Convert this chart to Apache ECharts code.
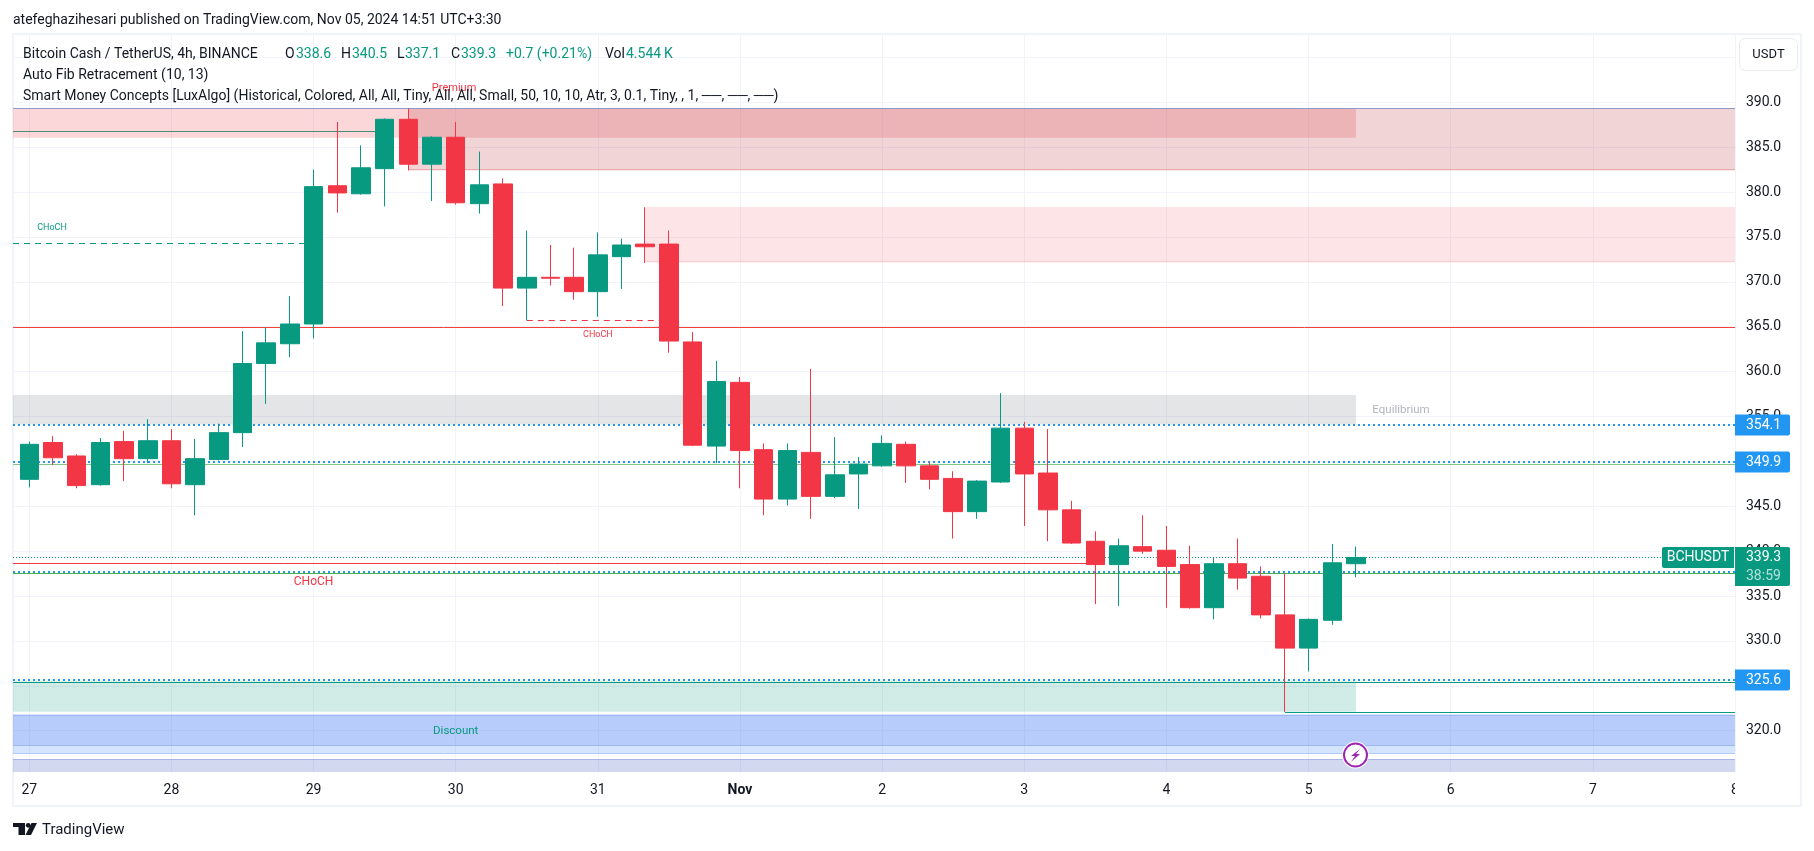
<!DOCTYPE html>
<html>
<head>
<meta charset="utf-8">
<style>html,body{margin:0;padding:0;background:#fff}#c{width:1814px;height:851px}</style>
<script src="https://cdn.jsdelivr.net/npm/echarts@6/dist/echarts.min.js"></script>
</head>
<body>
<div id="c"></div>
<script>
// ---- candles (one bar = 4h, bar 0 = Oct 27 00:00) ----
const opens  = [348.0,352.1,350.6,347.4,352.2,350.3,352.3,347.4,350.2,353.2,360.9,363.1,365.3,380.7,379.8,382.6,388.1,383.1,386.1,378.7,380.9,369.3,370.5,370.5,368.9,372.8,374.2,374.2,363.3,351.7,358.8,351.3,345.8,351.0,346.1,348.6,349.5,351.9,349.5,348.1,344.4,347.7,353.7,348.7,344.6,341.1,338.5,340.5,340.1,338.5,333.7,338.6,337.2,332.9,329.2,332.3,338.6];
const closes = [351.9,350.4,347.3,352.1,350.3,352.3,347.5,350.3,353.2,360.9,363.2,365.3,380.6,379.9,382.7,388.1,383.1,386.1,378.8,380.8,369.3,370.5,370.4,368.9,373.0,374.1,373.9,363.4,351.8,358.9,351.2,345.8,351.2,346.1,348.5,349.7,352.0,349.5,348.0,344.4,347.8,353.7,348.6,344.6,340.9,338.5,340.6,340.0,338.3,333.7,338.6,337.0,332.9,329.2,332.4,338.7,339.3];
const lows   = [347.1,349.6,347.0,347.3,347.8,349.8,347.0,344.0,350.1,351.6,356.4,361.6,363.7,377.7,379.7,378.4,382.4,379.0,378.6,377.6,367.3,365.7,369.6,368.0,366.1,369.2,372.1,362.1,351.7,349.8,347.0,344.0,345.1,343.6,345.9,344.7,349.4,347.6,346.9,341.4,343.6,347.6,342.8,341.1,340.8,334.1,333.9,339.7,333.7,333.6,332.4,335.7,332.5,322.1,326.6,331.8,337.1];
const highs  = [352.2,352.8,350.8,352.6,353.4,354.7,353.6,352.5,354.2,364.5,364.9,368.4,382.5,387.8,385.2,388.2,389.3,386.2,387.8,384.5,381.5,375.7,374.1,373.8,375.5,374.8,378.3,375.7,364.4,361.2,359.4,352.0,352.0,360.3,352.7,350.5,352.9,352.2,349.9,348.9,347.9,357.6,354.4,353.6,345.6,342.2,341.4,344.0,342.8,340.6,339.3,341.4,338.3,337.5,332.5,340.8,340.5];

// ---- axes ----
const dayLabels = ['27','28','29','30','31','Nov','2','3','4','5','6','7','8'];
const dayBars = [0,6,12,18,24,30,36,42,48,54,60,66,72];
const priceGrid = [320,325,330,335,340,345,350,355,360,365,370,375,380,385,390,395];
const priceLabels = [320,325,330,335,340,345,350,355,360,365,370,375,380,385,390];
const XMIN = -0.688, XMAX = 72, YMIN = 315.4, YMAX = 397.6;

// ---- zones: [fromBar, toBar, priceA, priceB] ----
const zonePremiumOld = [[XMIN,56,389.33,386.05]];
const zonePremiumNew = [[16,XMAX,389.33,382.4]];
const zoneSupply = [[26,XMAX,378.34,372.15]];
const zoneEquilibrium = [[XMIN,56,357.4,354.1]];
const zoneDiscount = [[XMIN,56,325.5,322.1]];
const zoneBlueA = [[XMIN,XMAX,321.8,318.3]];
const zoneBlueB = [[XMIN,XMAX,318.3,317.4]];
const zoneBlueC = [[XMIN,XMAX,316.8,YMIN]];

// ---- levels: [fromBar, toBar, price] ----
const levelTop = [[XMIN,XMAX,389.33]];
const levelRed = [[XMIN,XMAX,365.0]];
const levelOldSwing = [[XMIN,15,386.77]];
const levelChochTeal = [[XMIN,12,374.3]];
const levelChochRedDash = [[21,27,365.7]];
const levelChochRed = [[XMIN,45,338.64]];
const levelLowTeal = [[53,XMAX,322.05]];
const levelFibLight = [[XMIN,XMAX,349.75]];
const levelFibGreen = [[XMIN,XMAX,337.55]];
const levelFibTeal = [[XMIN,XMAX,325.42]];
const levelLast = [[XMIN,XMAX,339.3]];
const priceTags = [354.1,349.9,337.7,325.6];
const levelBlue = priceTags.map(p => [XMIN,XMAX,p]);

// ---- chart notes ----
const noteTexts = ['CHoCH','CHoCH','CHoCH','Premium','Equilibrium','Discount'];
const notePoints = [[0.96,376.0],[24,364.1],[12,336.6],[17.93,391.6],[57.9,355.7],[18,320.0]];
const noteStyles = [
  {c:'#089981',s:9},{c:'#f23645',s:9},{c:'#f23645',s:12},
  {c:'#f23645',s:11},{c:'#b2b5be',s:11.5},{c:'#089981',s:11.5}
];

const UP = '#089981', DOWN = '#f23645';
const FONT = 'Roboto, "Noto Sans", sans-serif';

function bandSeries(name, rows, fill, edge){
  return {
    type:'custom', name, z:1, silent:true, clip:true, data:rows,
    encode:{x:[0,1], y:[2,3]},
    renderItem(params, api){
      const a = api.coord([api.value(0), api.value(2)]);
      const b = api.coord([api.value(1), api.value(3)]);
      const kids = [{type:'rect', shape:{x:a[0], y:a[1], width:b[0]-a[0], height:b[1]-a[1]}, style:{fill}}];
      if (edge) kids.push({type:'line', shape:{x1:a[0], y1:Math.round(b[1])-.5, x2:b[0], y2:Math.round(b[1])-.5}, style:{stroke:edge, lineWidth:1}});
      return {type:'group', children:kids};
    }
  };
}
function levelSeries(name, rows, color, width, dash){
  return {
    type:'custom', name, z:2, silent:true, clip:true, data:rows,
    encode:{x:[0,1], y:2},
    renderItem(params, api){
      const a = api.coord([api.value(0), api.value(2)]);
      const b = api.coord([api.value(1), api.value(2)]);
      const y = width % 2 ? Math.round(a[1]) + .5 : Math.round(a[1]);
      return {type:'line', shape:{x1:a[0], y1:y, x2:b[0], y2:y},
        style:{stroke:color, lineWidth:width, lineDash:dash || null}};
    }
  };
}
const noteSeries = {
  type:'custom', name:'notes', z:6, silent:true, clip:false, data:notePoints,
  encode:{x:0, y:1},
  renderItem(params, api){
    const p = api.coord([api.value(0), api.value(1)]);
    const st = noteStyles[params.dataIndex];
    return {type:'text', x:p[0], y:p[1], style:{text:noteTexts[params.dataIndex], fill:st.c,
      font:st.s+'px '+FONT, textAlign:'center', textVerticalAlign:'middle'}};
  }
};
const tagSeries = {
  type:'custom', name:'priceTags', z:10, silent:true, clip:false,
  data:priceTags.map(p => [XMAX,p]),
  encode:{x:0, y:1},
  renderItem(params, api){
    const p = api.coord([api.value(0), api.value(1)]);
    return {type:'group', children:[
      {type:'rect', shape:{x:p[0], y:Math.round(p[1])-10.5, width:55, height:21, r:[0,2,2,0]}, style:{fill:'#2196f3'}},
      {type:'text', x:p[0]+11, y:p[1]+.5, style:{text:api.value(1).toFixed(1), fill:'#fff', font:'14px '+FONT, textVerticalAlign:'middle'}}
    ]};
  }
};
const lastSeries = {
  type:'custom', name:'lastPrice', z:11, silent:true, clip:false,
  data:[[XMAX,closes[closes.length-1]]],
  encode:{x:0, y:1},
  renderItem(params, api){
    const p = api.coord([api.value(0), api.value(1)]);
    const top = Math.round(p[1]) - 10;
    return {type:'group', children:[
      {type:'rect', shape:{x:p[0]-73, y:top, width:72, height:21, r:[2,0,0,2]}, style:{fill:UP}},
      {type:'text', x:p[0]-37, y:top+10.5, style:{text:'BCHUSDT', fill:'#fff', font:'14px '+FONT, textAlign:'center', textVerticalAlign:'middle'}},
      {type:'rect', shape:{x:p[0], y:top, width:55, height:39, r:[0,2,2,0]}, style:{fill:UP}},
      {type:'text', x:p[0]+11, y:top+10.5, style:{text:api.value(1).toFixed(1), fill:'#fff', font:'14px '+FONT, textVerticalAlign:'middle'}},
      {type:'text', x:p[0]+11, y:top+29, style:{text:'38:59', fill:'rgba(255,255,255,.7)', font:'14px '+FONT, textVerticalAlign:'middle'}}
    ]};
  }
};

function txt(x, y, text, fill, size){
  return {type:'text', x, y, z:20, silent:true,
    style:{text, fill:fill||'#2a2e39', font:(size||14)+'px '+FONT, textVerticalAlign:'middle'}};
}
const SYM = '#131722';
const graphics = [
  {type:'rect', z:0, silent:true, shape:{x:13,y:34,width:1788,height:772}, style:{fill:'none',stroke:'#f0f3fa',lineWidth:2}},
  {type:'rect', z:15, silent:true, shape:{x:1735,y:773,width:65,height:32}, style:{fill:'#fff'}},
  txt(13,20,'atefeghazihesari published on TradingView.com, Nov 05, 2024 14:51 UTC+3:30',SYM,14),
  txt(23,54,'Bitcoin Cash / TetherUS, 4h, BINANCE',SYM,14),
  txt(285,54,'O',SYM,14), txt(296,54,'338.6',UP,14),
  txt(341,54,'H',SYM,14), txt(352,54,'340.5',UP,14),
  txt(397,54,'L',SYM,14), txt(405,54,'337.1',UP,14),
  txt(451,54,'C',SYM,14), txt(461,54,'339.3',UP,14),
  txt(506,54,'+0.7 (+0.21%)',UP,14),
  txt(605,54,'Vol',SYM,14), txt(626,54,'4.544',UP,14), txt(664,54,'K',UP,14),
  txt(23,75,'Auto Fib Retracement (10, 13)',SYM,14),
  txt(23,96,'Smart Money Concepts [LuxAlgo] (Historical, Colored, All, All, Tiny, All, All, Small, 50, 10, 10, Atr, 3, 0.1, Tiny, , 1, ──, ──, ──)',SYM,14),
  {type:'rect', z:20, silent:true, shape:{x:1739.5,y:38.5,width:58,height:32,r:6}, style:{fill:'#fff',stroke:'#e9ecf3',lineWidth:1}},
  {type:'text', z:21, silent:true, x:1768.5, y:55, style:{text:'USDT',fill:SYM,font:'13px '+FONT,textAlign:'center',textVerticalAlign:'middle'}},
  // lightning marker
  {type:'circle', z:20, silent:true, shape:{cx:1355.5,cy:755,r:13.5}, style:{fill:'#fff'}},
  {type:'circle', z:21, silent:true, shape:{cx:1355.5,cy:755,r:11.5}, style:{fill:'#fff',stroke:'#9c27b0',lineWidth:2}},
  {type:'polygon', z:22, silent:true, shape:{points:[[1360,749],[1351,756],[1355,756],[1351,762],[1360,754],[1356,754]]}, style:{fill:'#9c27b0'}},
  // TradingView mark
  {type:'polygon', z:20, silent:true, shape:{points:[[13,823],[25,823],[25,835],[18.5,835],[18.5,827],[13,827]]}, style:{fill:SYM}},
  {type:'circle', z:20, silent:true, shape:{cx:28.2,cy:825.3,r:2.4}, style:{fill:SYM}},
  {type:'polygon', z:20, silent:true, shape:{points:[[31.5,823],[37,823],[31,835],[25.5,835]]}, style:{fill:SYM}},
  txt(42,830,'TradingView',SYM,15)
];

const chart = echarts.init(document.getElementById('c'), null, {renderer:'canvas'});
chart.setOption({
  animation:false,
  backgroundColor:'#fff',
  textStyle:{fontFamily:FONT},
  graphic:{elements:graphics},
  grid:{left:13, top:34, width:1722, height:738, containLabel:false},
  xAxis:{
    type:'value', min:XMIN, max:XMAX, z:0,
    axisLine:{show:false},
    axisTick:{show:false, customValues:dayBars},
    splitLine:{show:true, lineStyle:{color:'#f0f3fa', width:1}},
    axisLabel:{customValues:dayBars, margin:11, color:SYM, fontSize:14, fontFamily:FONT,
      hideOverlap:false,
      formatter:v => { const t = dayLabels[dayBars.indexOf(v)]; return t === 'Nov' ? '{b|Nov}' : t; },
      rich:{b:{fontWeight:'bold', fontSize:14, color:SYM, fontFamily:FONT}}}
  },
  yAxis:{
    type:'value', position:'right', min:YMIN, max:YMAX, z:0,
    axisLine:{show:false},
    axisTick:{show:false, customValues:priceGrid},
    splitLine:{show:true, lineStyle:{color:'#f0f3fa', width:1}},
    axisLabel:{customValues:priceLabels, margin:11, color:SYM, fontSize:14, fontFamily:FONT,
      formatter:v => v.toFixed(1)}
  },
  series:[
    bandSeries('premiumOld', zonePremiumOld, 'rgba(242,54,69,.2)'),
    bandSeries('premiumNew', zonePremiumNew, 'rgba(178,40,51,.2)', '#eba9ae'),
    bandSeries('supply', zoneSupply, 'rgba(242,54,69,.13)', '#f9cdd0'),
    bandSeries('equilibrium', zoneEquilibrium, 'rgba(120,123,134,.2)'),
    bandSeries('discount', zoneDiscount, 'rgba(8,153,129,.19)'),
    bandSeries('blueA', zoneBlueA, 'rgba(35,100,240,.33)', '#9db8f0'),
    bandSeries('blueB', zoneBlueB, 'rgba(41,120,245,.2)', '#b3c9f5'),
    bandSeries('blueC', zoneBlueC, 'rgba(40,70,180,.21)'),
    levelSeries('top', levelTop, '#8f99cc', 1),
    levelSeries('blueCTop', [[XMIN,XMAX,316.8]], '#a9b5e8', 1),
    levelSeries('blueATop', [[XMIN,XMAX,321.8]], '#9db8f0', 1),
    levelSeries('red', levelRed, '#f44336', 1),
    levelSeries('oldSwing', levelOldSwing, '#4f8a75', 1),
    levelSeries('chochTeal', levelChochTeal, UP, 1, [6,5]),
    levelSeries('chochRedDash', levelChochRedDash, DOWN, 1, [6,5]),
    levelSeries('chochRed', levelChochRed, DOWN, 1),
    levelSeries('lowTeal', levelLowTeal, UP, 1),
    levelSeries('fibLight', levelFibLight, '#81c784', 1),
    levelSeries('fibGreen', levelFibGreen, '#4caf50', 1),
    levelSeries('fibTeal', levelFibTeal, UP, 1),
    levelSeries('blue', levelBlue, '#2196f3', 2, [2,3]),
    levelSeries('last', levelLast, UP, 1, [1,2]),
    {
      type:'candlestick', name:'BCHUSDT', z:5, barWidth:19, silent:true, clip:true,
      data:opens.map((o,i) => [i,o,closes[i],lows[i],highs[i]]),
      encode:{x:0, y:[1,2,3,4]},
      itemStyle:{color:UP, color0:DOWN, borderColor:UP, borderColor0:DOWN, borderWidth:1}
    },
    noteSeries, tagSeries, lastSeries
  ]
});
</script>
</body>
</html>
